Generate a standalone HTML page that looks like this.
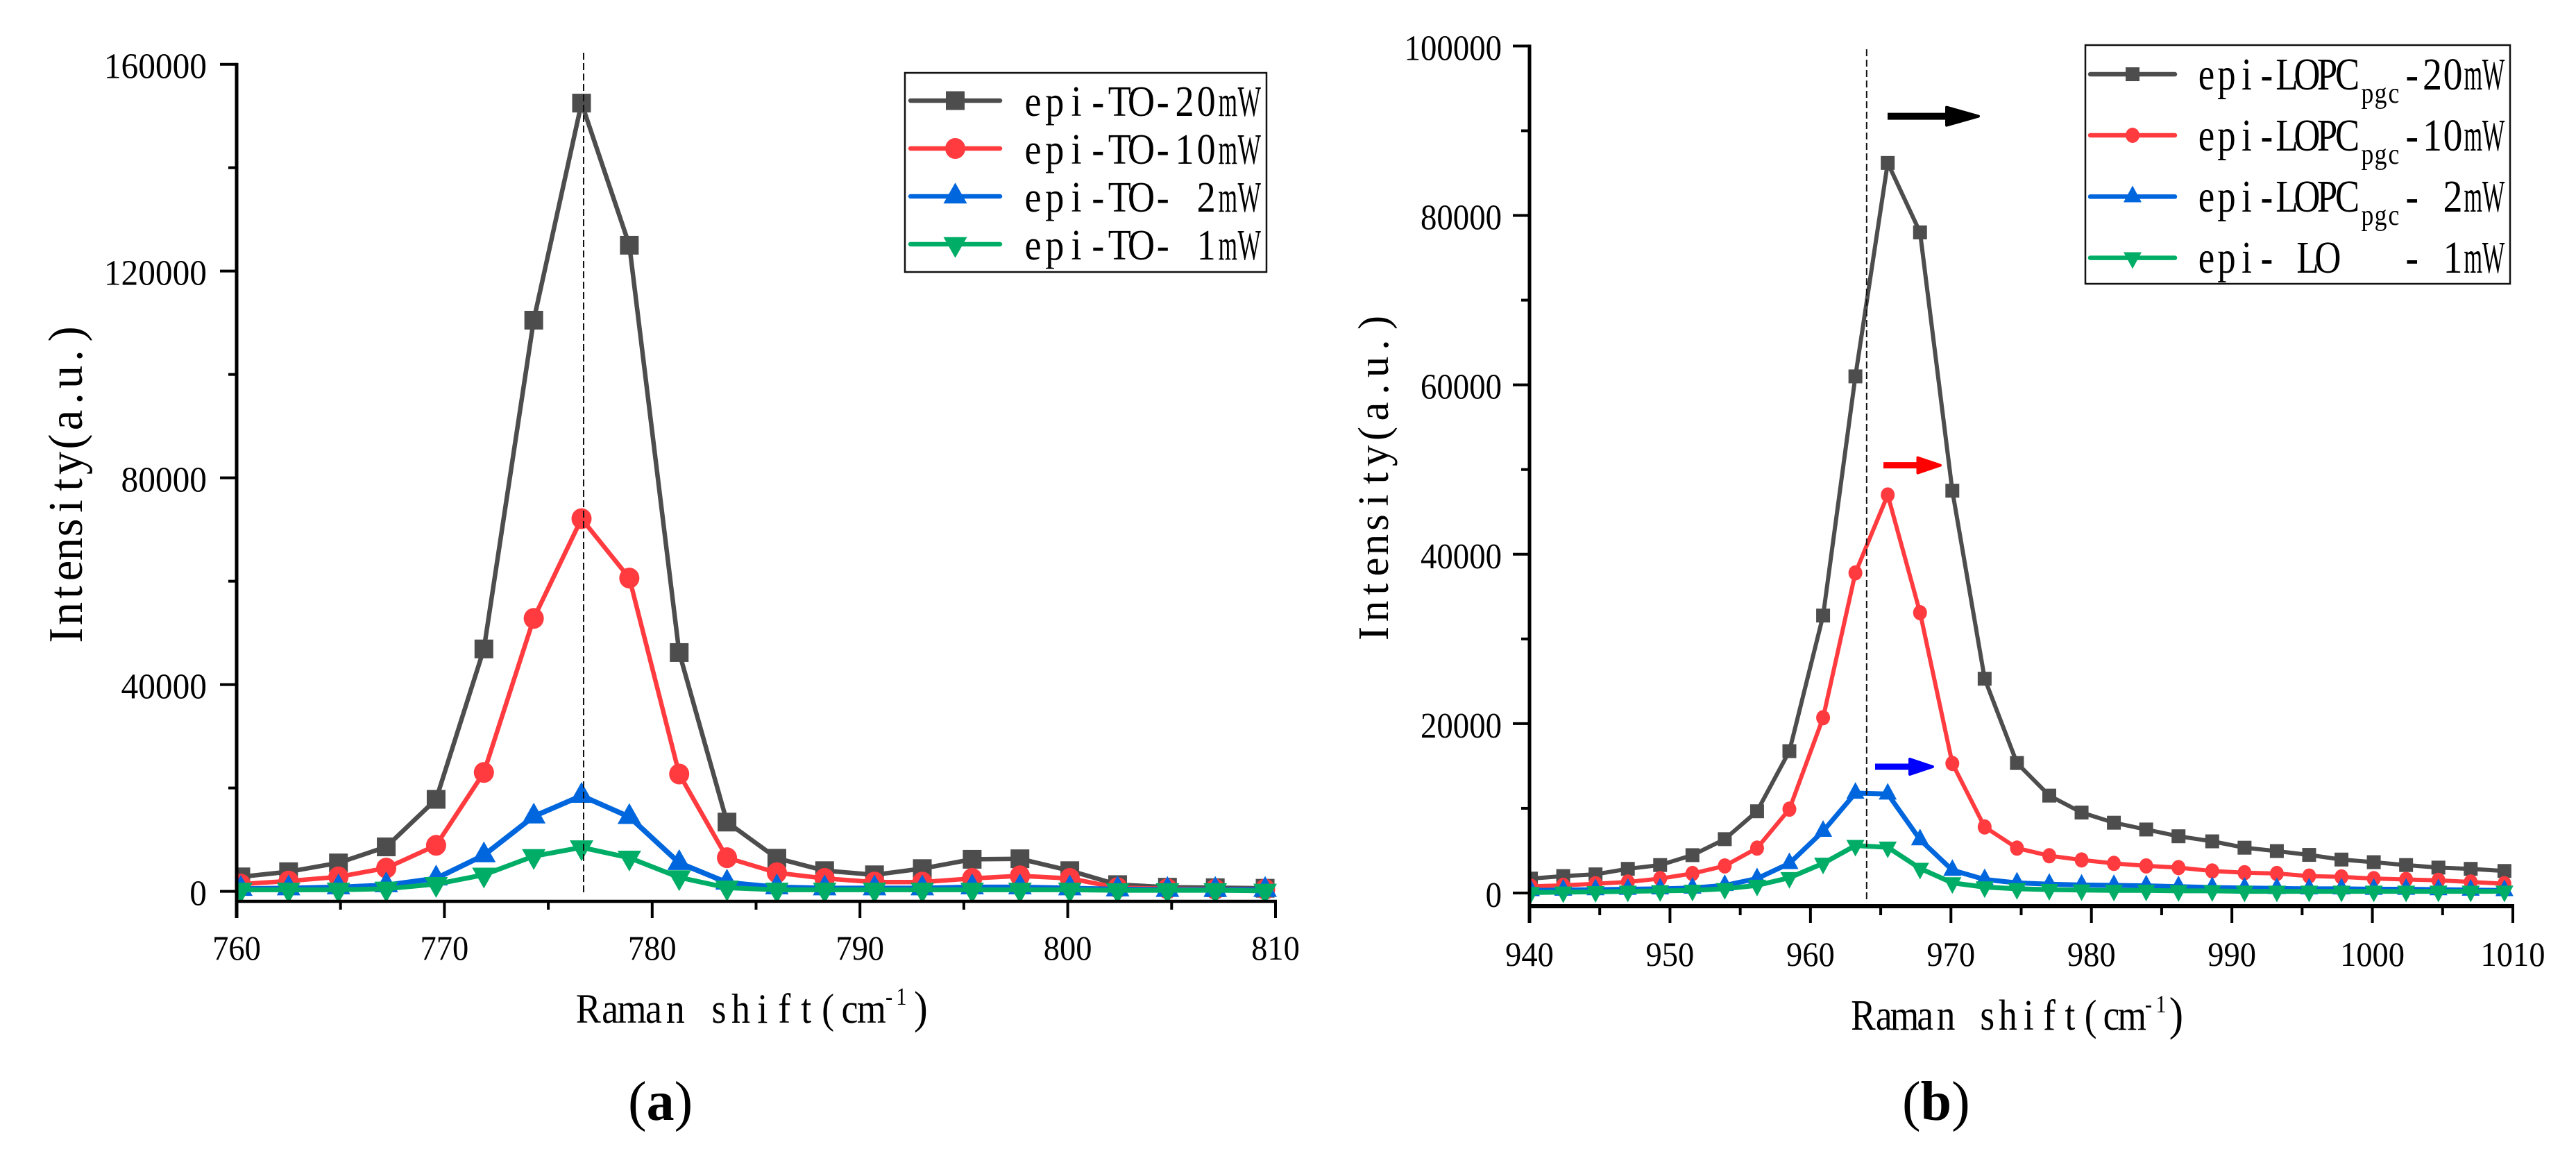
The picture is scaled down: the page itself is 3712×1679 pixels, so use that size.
<!DOCTYPE html>
<html lang="en">
<head>
<meta charset="utf-8">
<title>Raman spectra of epi-TO and epi-LOPC modes</title>
<style>
html,body{margin:0;padding:0;background:#fff;}
svg{display:block;}
text{font-family:"Liberation Serif","Noto Serif CJK SC",serif;fill:#000;white-space:pre;}
</style>
</head>
<body>
<svg id="figure" xmlns="http://www.w3.org/2000/svg" width="3712" height="1679" viewBox="0 0 3712 1679">
  <rect x="0" y="0" width="3712" height="1679" fill="#fff"/>
  <defs>
    <clipPath id="clip-a"><rect x="341" y="60" width="1500" height="1238"/></clipPath>
    <clipPath id="clip-b"><rect x="2204" y="40" width="1420" height="1264"/></clipPath>
  </defs>

  <g id="panel-a"></g>
  <g id="panel-b"></g>

  <!-- Panel a text -->
  <g>
    <text class="mono" data-x0="832" data-cell="31.4" data-sx="0.9" y="1474" font-size="60">Raman shift(cm</text>
    <text class="mono" data-x0="1272" data-cell="18" data-sx="0.85" y="1448" font-size="36">-1</text>
    <text class="mono" data-x0="1312" data-cell="30" data-sx="0.9" y="1474" font-size="66">)</text>
  </g>
  <text class="mono rot" data-bx="118" data-by="931" data-cell="31" data-sx="0.95" font-size="70">Intensity(a.u.)</text>
  <text x="905" y="1614" font-size="80">(<tspan font-weight="bold">a</tspan>)</text>

  <g>
    <rect x="1304" y="105" width="521" height="287" fill="#fff" stroke="#111" stroke-width="2.5"/>
    <g id="legend-a-swatches"></g>
    <g>
      <text class="mono" data-x0="1473" data-cell="31.2" data-sx="0.86" y="167" font-size="63">epi-TO-20</text>
      <text class="mono" data-x0="1753.8" data-cell="31" data-sx="0.56" y="167" font-size="63">mW</text>
    </g>
    <g>
      <text class="mono" data-x0="1473" data-cell="31.2" data-sx="0.86" y="236" font-size="63">epi-TO-10</text>
      <text class="mono" data-x0="1753.8" data-cell="31" data-sx="0.56" y="236" font-size="63">mW</text>
    </g>
    <g>
      <text class="mono" data-x0="1473" data-cell="31.2" data-sx="0.86" y="305" font-size="63">epi-TO- 2</text>
      <text class="mono" data-x0="1753.8" data-cell="31" data-sx="0.56" y="305" font-size="63">mW</text>
    </g>
    <g>
      <text class="mono" data-x0="1473" data-cell="31.2" data-sx="0.86" y="374" font-size="63">epi-TO- 1</text>
      <text class="mono" data-x0="1753.8" data-cell="31" data-sx="0.56" y="374" font-size="63">mW</text>
    </g>
  </g>

  <!-- Panel b text -->
  <g>
    <text class="mono" data-x0="2670" data-cell="29.8" data-sx="0.86" y="1484" font-size="62">Raman shift(cm</text>
    <text class="mono" data-x0="3087" data-cell="18" data-sx="0.85" y="1459" font-size="36">-1</text>
    <text class="mono" data-x0="3121" data-cell="30" data-sx="0.9" y="1484" font-size="68">)</text>
  </g>
  <text class="mono rot" data-bx="2000" data-by="929" data-cell="32" data-sx="0.98" font-size="62">Intensity(a.u.)</text>
  <text x="2741" y="1614" font-size="80">(<tspan font-weight="bold">b</tspan>)</text>

  <g>
    <rect x="3005" y="65" width="612" height="344" fill="#fff" stroke="#111" stroke-width="2.5"/>
    <g id="legend-b-swatches"></g>
    <g>
      <text class="mono" data-x0="3165" data-cell="29" data-sx="0.8" y="129" font-size="66">epi-LOPC</text>
      <text class="mono" data-x0="3402" data-cell="19" data-sx="0.85" y="148" font-size="42">pgc</text>
      <text class="mono" data-x0="3461" data-cell="29.4" data-sx="0.85" y="129" font-size="66">-20</text>
      <text class="mono" data-x0="3549" data-cell="29.4" data-sx="0.52" y="129" font-size="66">mW</text>
    </g>
    <g>
      <text class="mono" data-x0="3165" data-cell="29" data-sx="0.8" y="217" font-size="66">epi-LOPC</text>
      <text class="mono" data-x0="3402" data-cell="19" data-sx="0.85" y="236" font-size="42">pgc</text>
      <text class="mono" data-x0="3461" data-cell="29.4" data-sx="0.85" y="217" font-size="66">-10</text>
      <text class="mono" data-x0="3549" data-cell="29.4" data-sx="0.52" y="217" font-size="66">mW</text>
    </g>
    <g>
      <text class="mono" data-x0="3165" data-cell="29" data-sx="0.8" y="305" font-size="66">epi-LOPC</text>
      <text class="mono" data-x0="3402" data-cell="19" data-sx="0.85" y="324" font-size="42">pgc</text>
      <text class="mono" data-x0="3461" data-cell="29.4" data-sx="0.85" y="305" font-size="66">- 2</text>
      <text class="mono" data-x0="3549" data-cell="29.4" data-sx="0.52" y="305" font-size="66">mW</text>
    </g>
    <g>
      <text class="mono" data-x0="3165" data-cell="29" data-sx="0.8" y="393" font-size="66">epi-</text>
      <text class="mono" data-x0="3311" data-cell="29" data-sx="0.8" y="393" font-size="66">LO</text>
      <text class="mono" data-x0="3461" data-cell="29.4" data-sx="0.85" y="393" font-size="66">- 1</text>
      <text class="mono" data-x0="3549" data-cell="29.4" data-sx="0.52" y="393" font-size="66">mW</text>
    </g>
  </g>
</svg>

<script>
// ---------- Panel (a) data ----------
const shiftA = [760.2,762.5,764.9,767.2,769.6,771.9,774.3,776.6,778.9,781.3,783.6,786.0,788.3,790.7,793.0,795.4,797.7,800.1,802.4,804.8,807.1,809.5];
const to20mW = [2800,3800,5500,8600,17800,46900,110500,152500,125000,46200,13400,6400,4000,3200,4400,6200,6300,4000,1300,800,700,600];
const to10mW = [1400,2000,2800,4500,8900,23000,52800,72100,60600,22700,6500,3600,2500,1800,1800,2500,3000,2500,700,500,400,400];
const to2mW = [500,600,800,1200,2500,7000,14500,18500,14400,5500,1700,800,600,600,600,800,800,600,400,300,300,300];
const to1mW = [300,300,300,500,1400,3200,6800,8500,6500,2700,700,300,300,300,300,300,300,300,200,200,200,100];
const xTicksA = [760,770,780,790,800,810];
const xMinorA = [765,775,785,795,805];
const yTicksA = [0,40000,80000,120000,160000];
const yMinorA = [20000,60000,100000,140000];
const peakA = [776.7];

// ---------- Panel (b) data ----------
const shiftB = [940.1,942.4,944.7,947.0,949.3,951.6,953.9,956.2,958.5,960.9,963.2,965.5,967.8,970.1,972.4,974.7,977.0,979.3,981.6,983.9,986.2,988.6,990.9,993.2,995.5,997.8,1000.1,1002.4,1004.7,1007.0,1009.4];
const lopc20mW = [1700,2000,2200,2850,3300,4470,6360,9650,16750,32760,61000,86200,78000,47500,25300,15350,11500,9500,8300,7500,6700,6100,5350,4950,4500,3950,3640,3300,3000,2850,2600];
const lopc10mW = [800,900,1100,1300,1700,2300,3200,5300,9900,20700,37800,47000,33100,15300,7800,5300,4400,3900,3500,3200,3000,2600,2400,2300,2000,1900,1700,1600,1500,1300,1100];
const lopc2mW = [300,350,400,450,500,600,900,1700,3500,7300,11800,11700,6300,2700,1600,1200,1050,950,900,850,750,650,600,550,500,500,450,450,400,350,300];
const lo1mW = [50,100,150,200,250,300,500,900,1800,3500,5600,5400,2900,1200,700,500,400,350,300,300,250,250,200,200,200,200,200,200,200,200,200];
const xTicksB = [940,950,960,970,980,990,1000,1010];
const xMinorB = [945,955,965,975,985,995,1005];
const yTicksB = [0,20000,40000,60000,80000,100000];
const yMinorB = [10000,30000,50000,70000,90000];
const peakB = [964];

const SVG_NS = 'http://www.w3.org/2000/svg';
const GRAY = '#4d4d4d', RED = '#ff3b3f', BLUE = '#0066dd', GREEN = '#00ad66';

function make(tag, attrs, parent) {
  const el = document.createElementNS(SVG_NS, tag);
  for (const k in attrs) el.setAttribute(k, attrs[k]);
  if (parent) parent.appendChild(el);
  return el;
}
function linear(d0, d1, r0, r1) {
  return v => r0 + (v - d0) * (r1 - r0) / (d1 - d0);
}

function drawMarker(parent, kind, cx, cy, m, color) {
  let el;
  if (kind === 'square') {
    el = make('rect', {x: cx - m.sq / 2, y: cy - m.sq / 2, width: m.sq, height: m.sq, fill: color}, parent);
  } else if (kind === 'circle') {
    el = make('ellipse', {cx: cx, cy: cy, rx: m.cw / 2, ry: m.ch / 2, fill: color}, parent);
  } else if (kind === 'up') {
    el = make('polygon', {points: `${cx},${cy - m.th * 0.66} ${cx + m.tw / 2},${cy + m.th * 0.34} ${cx - m.tw / 2},${cy + m.th * 0.34}`, fill: color}, parent);
  } else {
    el = make('polygon', {points: `${cx},${cy + m.th * 0.66} ${cx + m.tw / 2},${cy - m.th * 0.34} ${cx - m.tw / 2},${cy - m.th * 0.34}`, fill: color}, parent);
  }
  return el;
}

function drawPanel(root, c) {
  const sx = linear(c.xDomain[0], c.xDomain[1], c.left, c.right);
  const sy = linear(0, c.yMax, c.zeroY, c.topY);

  const plot = make('g', {'clip-path': 'url(#' + c.clip + ')'}, root);
  
  

  c.series.forEach(s => {
    const g = make('g', {}, plot);
    
    
    const pts = s.values.map((v, i) => sx(c.xs[i]).toFixed(1) + ',' + sy(v).toFixed(1)).join(' ');
    const line = make('polyline', {points: pts, fill: 'none', stroke: s.color, 'stroke-width': s.width, 'stroke-linejoin': 'round'}, g);
    
    
    s.values.forEach((v, i) => {
      const mk = drawMarker(g, s.kind, sx(c.xs[i]), sy(v), c.marker, s.color);
      
      
    });
  });

  c.peak.forEach(p => {
    const dash = make('line', {x1: sx(p), x2: sx(p), y1: c.dashTop, y2: c.dashBottom, stroke: '#111', 'stroke-width': 2, 'stroke-dasharray': '10 5'}, root);
    
    
  });

  const yAxis = make('line', {x1: c.left, x2: c.left, y1: c.topY - 2, y2: c.majorEnd, stroke: '#000', 'stroke-width': 5}, root);
  
  
  const xAxis = make('line', {x1: c.left - 2, x2: c.right + 2, y1: c.axisY, y2: c.axisY, stroke: '#000', 'stroke-width': c.xAxisWidth}, root);
  
  

  c.xTicks.forEach(t => {
    const tick = make('line', {x1: sx(t), x2: sx(t), y1: c.axisY, y2: c.majorEnd, stroke: '#000', 'stroke-width': 4}, root);
    
    
    const lab = make('text', {x: sx(t) / 0.93, y: c.xLabelY, 'font-size': 50, 'text-anchor': 'middle', transform: 'scale(0.93,1)'}, root);
    lab.textContent = String(t);
    
    
  });
  c.xMinor.forEach(t => {
    const tick = make('line', {x1: sx(t), x2: sx(t), y1: c.axisY, y2: c.minorEnd, stroke: '#000', 'stroke-width': 4}, root);
    
    
  });
  c.yTicks.forEach(t => {
    const tick = make('line', {x1: c.left - 24, x2: c.left, y1: sy(t), y2: sy(t), stroke: '#000', 'stroke-width': 4}, root);
    
    
    const lab = make('text', {x: c.yLabelRight / c.ySx, y: sy(t) + 20, 'font-size': 52, 'text-anchor': 'end', transform: 'scale(' + c.ySx + ',1)'}, root);
    lab.textContent = String(t);
    
    
  });
  c.yMinor.forEach(t => {
    const tick = make('line', {x1: c.left - 12, x2: c.left, y1: sy(t), y2: sy(t), stroke: '#000', 'stroke-width': 4}, root);
    
    
  });
}

const seriesA = [
  {name: 'epi-to-20mw', values: to20mW, color: GRAY, kind: 'square', width: 6.5},
  {name: 'epi-to-10mw', values: to10mW, color: RED, kind: 'circle', width: 6.5},
  {name: 'epi-to-2mw', values: to2mW, color: BLUE, kind: 'up', width: 7.5},
  {name: 'epi-to-1mw', values: to1mW, color: GREEN, kind: 'down', width: 7}
];
const seriesB = [
  {name: 'epi-lopc-20mw', values: lopc20mW, color: GRAY, kind: 'square', width: 6},
  {name: 'epi-lopc-10mw', values: lopc10mW, color: RED, kind: 'circle', width: 6},
  {name: 'epi-lopc-2mw', values: lopc2mW, color: BLUE, kind: 'up', width: 7},
  {name: 'epi-lo-1mw', values: lo1mW, color: GREEN, kind: 'down', width: 7}
];
const markerA = {sq: 27, cw: 29, ch: 30, tw: 34, th: 30};
const markerB = {sq: 20, cw: 20, ch: 22, tw: 26, th: 24};

drawPanel(document.getElementById('panel-a'), {
  id: 'panel-a', clip: 'clip-a', xs: shiftA, series: seriesA, marker: markerA, peak: peakA,
  xDomain: [760, 810], yMax: 160000, left: 341, right: 1838, zeroY: 1284.6, topY: 92.7,
  axisY: 1299, xAxisWidth: 4.5, majorEnd: 1323, minorEnd: 1311, dashTop: 76, dashBottom: 1290,
  xTicks: xTicksA, xMinor: xMinorA, yTicks: yTicksA, yMinor: yMinorA,
  xLabelY: 1383, yLabelRight: 298, ySx: 0.95
});
drawPanel(document.getElementById('panel-b'), {
  id: 'panel-b', clip: 'clip-b', xs: shiftB, series: seriesB, marker: markerB, peak: peakB,
  xDomain: [940, 1010], yMax: 100000, left: 2204, right: 3621, zeroY: 1287, topY: 66.4,
  axisY: 1306, xAxisWidth: 6, majorEnd: 1330, minorEnd: 1319, dashTop: 71, dashBottom: 1300,
  xTicks: xTicksB, xMinor: xMinorB, yTicks: yTicksB, yMinor: yMinorB,
  xLabelY: 1392, yLabelRight: 2164, ySx: 0.9
});

// Legend swatches
function drawSwatches(parent, series, marker, x1, x2, rows) {
  series.forEach((s, i) => {
    const g = make('g', {}, parent);
    
    
    make('line', {x1: x1, x2: x2, y1: rows[i], y2: rows[i], stroke: s.color, 'stroke-width': 6.5, 'stroke-linecap': 'round'}, g);
    drawMarker(g, s.kind, (x1 + x2) / 2, rows[i], marker, s.color);
  });
}
drawSwatches(document.getElementById('legend-a-swatches'), seriesA, markerA, 1312, 1441, [145, 214, 283, 352]);
drawSwatches(document.getElementById('legend-b-swatches'), seriesB, markerB, 3012, 3134, [107, 195, 283.4, 371.6]);

// Annotation arrows
const arrowSpecs = [
  {name: 'arrow-black', color: '#000', x1: 2720, x2: 2853, head: 2803, y: 167.6, shaft: 10, hh: 15},
  {name: 'arrow-red', color: '#ff0000', x1: 2714, x2: 2798, head: 2761.5, y: 670.6, shaft: 9, hh: 13},
  {name: 'arrow-blue', color: '#0000ff', x1: 2702, x2: 2787, head: 2750, y: 1105, shaft: 9, hh: 13}
];
const figure = document.getElementById('figure');
arrowSpecs.forEach(a => {
  const g = make('g', {}, figure);
  
  
  make('rect', {x: a.x1, y: a.y - a.shaft / 2, width: a.head - a.x1 + 2, height: a.shaft, fill: a.color}, g);
  make('polygon', {points: `${a.head + 2},${a.y - a.hh + 2} ${a.x2 - 2},${a.y} ${a.head + 2},${a.y + a.hh - 2}`, fill: a.color, stroke: a.color, 'stroke-width': 4, 'stroke-linejoin': 'round'}, g);
});

// Half-width (monospaced) placement of inline text
document.querySelectorAll('text.mono').forEach(t => {
  const chars = Array.from(t.textContent);
  const cell = parseFloat(t.dataset.cell), s = parseFloat(t.dataset.sx);
  t.setAttribute('text-anchor', 'middle');
  if (t.classList.contains('rot')) {
    t.setAttribute('x', chars.map((ch, i) => (((i + 0.5) * cell) / s).toFixed(1)).join(' '));
    t.setAttribute('y', '0');
    t.setAttribute('transform', `translate(${t.dataset.bx},${t.dataset.by}) rotate(-90) scale(${s},1)`);
  } else {
    const x0 = parseFloat(t.dataset.x0);
    t.setAttribute('x', chars.map((ch, i) => ((x0 + (i + 0.5) * cell) / s).toFixed(1)).join(' '));
    t.setAttribute('transform', `scale(${s},1)`);
  }
});
</script>
</body>
</html>
